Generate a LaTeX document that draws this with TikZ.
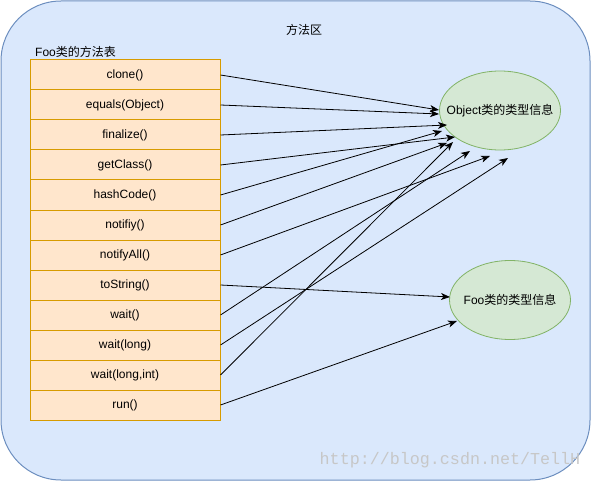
\documentclass[tikz,border=0pt]{standalone}
\usepackage{fontspec}
\setmainfont{Liberation Sans}
\newfontfamily\cjk{Noto Sans CJK SC}
\newfontfamily\markfont{Liberation Mono}
\usetikzlibrary{arrows.meta,positioning,shapes.geometric}
\definecolor{areafill}{HTML}{DAE8FC}
\definecolor{areadraw}{HTML}{6C8EBF}
\definecolor{cellfill}{HTML}{FFE6CC}
\definecolor{celldraw}{HTML}{D79B00}
\definecolor{infofill}{HTML}{D5E8D4}
\definecolor{infodraw}{HTML}{82B366}
\tikzset{
  cell/.style={draw=celldraw, fill=cellfill, line width=1pt, minimum width=190pt, minimum height=30pt, inner sep=0pt},
  info/.style={ellipse, draw=infodraw, fill=infofill, line width=0.8pt, minimum width=121pt, minimum height=79pt, inner sep=0pt},
  arr/.style={-{Stealth[length=9pt,width=7pt,inset=2.5pt]}, line width=0.8pt, black}
}

\begin{document}
\begin{tikzpicture}[x=1pt, y=-1pt, font=\fontsize{12}{14}\selectfont]
  \useasboundingbox (0,0) rectangle (591,481);
  \draw[draw=areadraw, fill=areafill, line width=1pt, rounded corners=60pt] (1,1) rectangle (590,480);
  \node (area) at (304,30) {\cjk 方法区};
  \node[anchor=west, inner sep=0pt] (title) at (35,52) {Foo{\cjk 类的方法表}};
  % method table
  \foreach \name [count=\i] in {clone(), equals(Object), finalize(), getClass(), hashCode(), notifiy(), notifyAll(), toString(), wait(), wait(long), {wait(long,int)}, run()}
    \node[cell] (m\i) at (125, 45+30*\i) {\name};
  \node[info, label=center:{Object{\cjk 类的类型信息}}] (obj) at (500,110.5) {};
  \node[info, label=center:{Foo{\cjk 类的类型信息}}] (foo) at (510,300) {};
  % arrow tips
  \coordinate (t1) at (439,110);
  \coordinate (t2) at (439,114);
  \coordinate (t3) at (447,125);
  \coordinate (t4) at (455,137);
  \coordinate (t5) at (442,131);
  \coordinate (t6) at (447,143);
  \coordinate (t7) at (490,156);
  \coordinate (t8) at (450,297);
  \coordinate (t9) at (470,151);
  \coordinate (t10) at (508,158);
  \coordinate (t11) at (453,142);
  \coordinate (t12) at (457,321);
  \foreach \i in {1,...,12}
    \draw[arr] (m\i.east) -- (t\i);
  \node[text=black!22, font=\markfont\fontsize{16.7}{18}\selectfont] (mark) at (450,460) {http://blog.csdn.net/TellH};
\end{tikzpicture}
\end{document}
